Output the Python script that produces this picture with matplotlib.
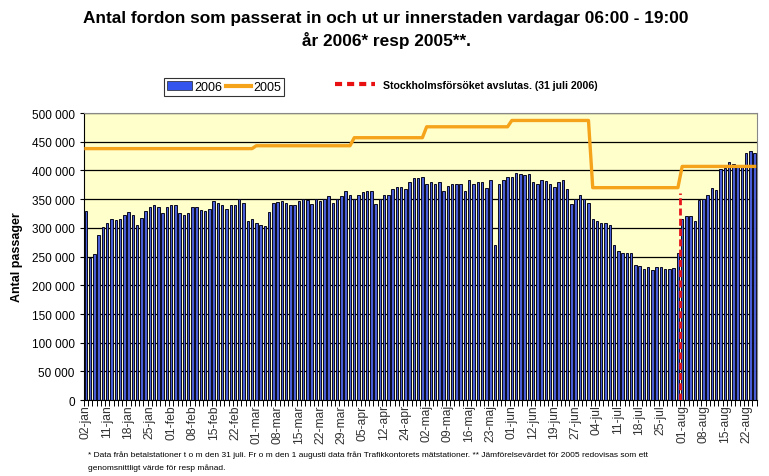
import matplotlib.pyplot as plt
from matplotlib.lines import Line2D
from matplotlib.patches import Patch
from matplotlib.ticker import FuncFormatter, MultipleLocator
import numpy as np

plt.rcParams['font.family'] = ['Liberation Sans', 'DejaVu Sans']

# 2006, vehicles per weekday (thousands)
v2006 = [330, 247, 254, 288, 301, 308, 315, 313, 315, 322,
         327, 322, 305, 317, 329, 337, 339, 336, 326, 336,
         339, 339, 326, 322, 326, 337, 337, 331, 329, 333,
         346, 343, 339, 333, 339, 339, 350, 343, 312, 315,
         308, 305, 304, 327, 343, 345, 347, 343, 339, 339,
         347, 350, 348, 341, 350, 347, 350, 355, 343, 350,
         355, 364, 358, 350, 358, 362, 365, 365, 341, 350,
         358, 358, 367, 372, 372, 367, 379, 387, 386, 389,
         377, 379, 377, 379, 365, 373, 376, 377, 376, 365,
         384, 376, 380, 379, 369, 384, 271, 376, 384, 389,
         389, 395, 394, 392, 394, 379, 377, 384, 382, 376,
         372, 379, 384, 367, 341, 350, 358, 350, 343, 316,
         312, 308, 309, 305, 270, 260, 257, 256, 256, 235,
         233, 228, 231, 226, 231, 231, 228, 228, 230, 257,
         315, 320, 320, 312, 348, 351, 358, 369, 366, 402,
         405, 414, 411, 409, 409, 430, 433, 430]

# 2005 monthly averages (thousands) and number of 2006 weekdays per month
months = ['jan', 'feb', 'mar', 'apr', 'maj', 'jun', 'jul', 'aug']
avg2005 = [438, 438, 443, 457, 476, 487, 370, 407]
days_in_month = [20, 20, 23, 17, 20, 19, 21, 18]

tick_labels = ['02-jan', '11-jan', '18-jan', '25-jan', '01-feb', '08-feb', '15-feb', '22-feb',
               '01-mar', '08-mar', '15-mar', '22-mar', '29-mar', '05-apr', '12-apr', '24-apr',
               '02-maj', '09-maj', '16-maj', '23-maj', '01-jun', '12-jun', '19-jun', '27-jun',
               '04-jul', '11-jul', '18-jul', '25-jul', '01-aug', '08-aug', '15-aug', '22-aug']
label_step = 5
trial_end = 139.6  # between 31 juli and 01 aug

line2005 = []
for val, n in zip(avg2005, days_in_month):
    line2005 += [val * 1000] * n

x = np.arange(len(v2006))

fig = plt.figure(figsize=(7.69, 4.77), dpi=100)
ax = fig.add_axes([0.109, 0.159, 0.875, 0.602])
ax.set_facecolor('#ffffcc')

ax.bar(x, [v * 1000 for v in v2006], width=0.58, color='#4a5fd6',
       edgecolor='#0a0a20', linewidth=0.7, zorder=2)
ax.plot(x, line2005, color='#f5a31a', lw=2.4, zorder=3)
ax.plot([trial_end, trial_end], [0, 360000], color='#e8141c', lw=2,
        ls=(0, (2.5, 1.2)), zorder=4)

ax.set_xlim(-0.5, len(v2006) - 0.5)
ax.set_ylim(0, 500000)
ax.yaxis.set_major_locator(MultipleLocator(50000))
ax.yaxis.set_major_formatter(FuncFormatter(lambda v, p: f"{int(v):,}".replace(',', ' ')))
ax.grid(axis='y', color='black', lw=0.9, zorder=1)
ax.set_axisbelow(True)

ax.set_xticks(x[::label_step][:len(tick_labels)])
ax.set_xticklabels(tick_labels, rotation=90, fontsize=8.7, color='#333333')
ax.set_xticks(np.arange(-0.5, len(v2006), 1), minor=True)
ax.tick_params(axis='x', which='major', length=0, pad=3)
ax.tick_params(axis='x', which='minor', length=4, width=0.7, color='black')
ax.tick_params(axis='y', labelsize=8.5, length=3, width=0.8)

for s in ['top', 'right']:
    ax.spines[s].set_color('#888888')
ax.spines['left'].set_color('black')
ax.spines['bottom'].set_color('black')

ax.set_ylabel('Antal passager', fontsize=9, fontweight='bold', labelpad=6)

fig.text(0.502, 0.962, 'Antal fordon som passerat in och ut ur innerstaden vardagar 06:00 - 19:00',
         ha='center', va='center', fontsize=12.4, fontweight='bold')
fig.text(0.502, 0.916, 'år 2006* resp 2005**.', ha='center', va='center',
         fontsize=12.4, fontweight='bold')

leg1 = fig.legend(handles=[Patch(facecolor='#3355ee', edgecolor='#222222', lw=0.5),
                           Line2D([], [], color='#f5a31a', lw=3)],
                  labels=['2006', '2005'], ncol=2, loc='center',
                  bbox_to_anchor=(224 / 769, 1 - 88 / 477), frameon=True, fancybox=False,
                  edgecolor='black', handlelength=2.0, columnspacing=0.3,
                  handletextpad=0.2, fontsize=9, borderpad=0.25, borderaxespad=0)
leg1.get_frame().set_linewidth(0.8)

fig.legend(handles=[Line2D([], [], color='#e81010', lw=3, ls=(0, (1.7, 1.2)))],
           labels=['Stockholmsförsöket avslutas. (31 juli 2006)'], loc='center left',
           bbox_to_anchor=(325 / 769, 1 - 86 / 477), frameon=False,
           prop={'weight': 'bold', 'size': 7.6}, handlelength=3.8, handletextpad=0.8)

fig.text(88 / 769, 1 - 455 / 477,
         '* Data från betalstationer t o m den 31 juli. Fr o m den 1 augusti data från '
         'Trafikkontorets mätstationer. ** Jämförelsevärdet för 2005 redovisas som ett',
         fontsize=6.05, va='center')
fig.text(88 / 769, 1 - 468 / 477, 'genomsnittligt värde för resp månad.',
         fontsize=6.05, va='center')

fig.savefig('out.png', dpi=100)
